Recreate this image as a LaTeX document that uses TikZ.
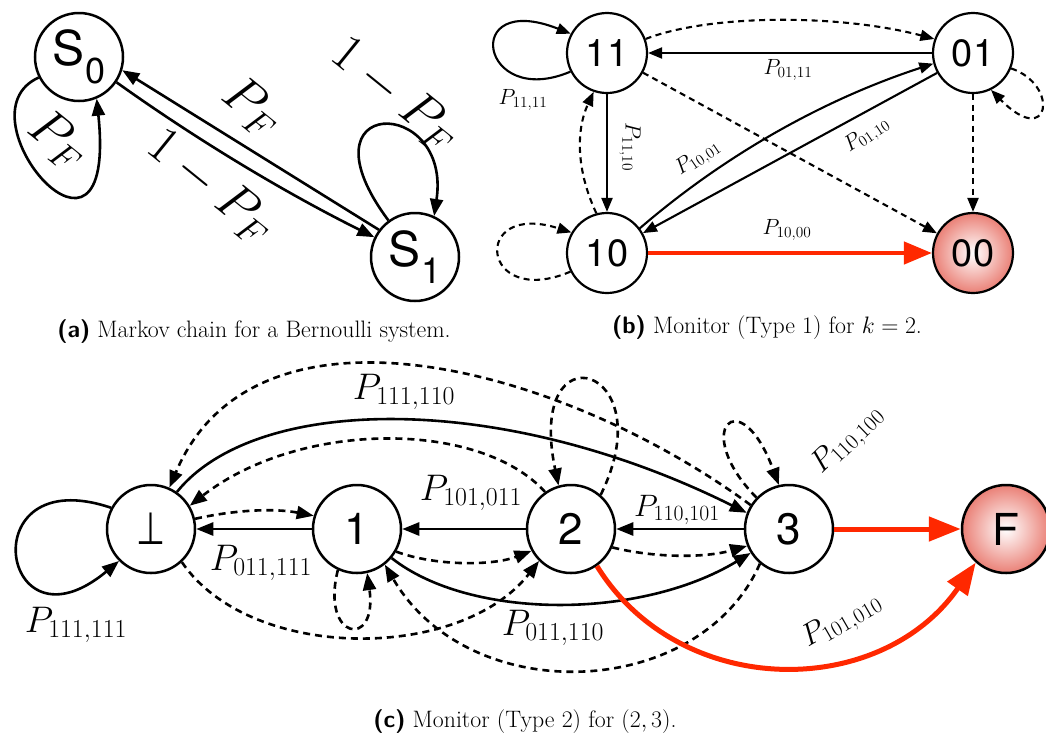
\RequirePackage{fix-cm}
\documentclass[tikz,border=0pt]{standalone}
\usepackage{fontspec}
\usepackage{graphicx}
\usetikzlibrary{arrows.meta}
\newfontfamily\hv{TeX Gyre Heros}
\newfontfamily\dv{DejaVu Sans}
\definecolor{redline}{RGB}{255,40,0}
\definecolor{salmon}{RGB}{234,128,118}
\newcommand{\fsz}[1]{\fontsize{#1}{#1}\selectfont}
\begin{document}
\begin{tikzpicture}[x=1pt,y=-1pt,
 sta/.style={circle,draw,line width=2.5pt,fill=white,inner sep=0pt,minimum size=88pt},
 stb/.style={circle,draw,line width=2.2pt,fill=white,inner sep=0pt,minimum size=80pt,font=\hv\fsz{38}},
 stc/.style={circle,draw,line width=2.5pt,fill=white,inner sep=0pt,minimum size=88pt,font=\hv\fsz{44}},
 bad/.style={shading=radial,inner color=white,outer color=salmon},
 ea/.style={line width=2.6pt,-{Triangle[length=17pt,width=13pt]}},
 eb/.style={line width=2.1pt,-{Triangle[length=14pt,width=11pt]}},
 ec/.style={line width=2.6pt,-{Triangle[length=17pt,width=13pt]}},
 dsb/.style={dash pattern=on 6pt off 4.5pt},
 dsc/.style={dash pattern=on 7pt off 5pt},
 redb/.style={line width=4.5pt,draw=redline,-{Triangle[length=28pt,width=22pt]}},
 redc/.style={line width=5pt,draw=redline,-{Triangle[length=32pt,width=24pt]}},
 la/.style={inner sep=0pt,font=\fsz{52}},
 lb/.style={inner sep=0pt,font=\fsz{22}},
 lc/.style={inner sep=0pt,font=\fsz{37}},
 lcs/.style={inner sep=0pt,font=\fsz{31}},
 capt/.style={inner sep=0pt,font=\fsz{23.8},anchor=base}]
\useasboundingbox (0,0) rectangle (1046,737);

% ---------- (a) ----------
\node[sta] (s0) at (79,57) {\hv\fsz{48}S\raisebox{-0.37em}{\fsz{36}0}\rule[-11pt]{0pt}{0pt}};
\node[sta] (s1) at (415,257) {\hv\fsz{48}S\raisebox{-0.37em}{\fsz{36}1}\rule[-11pt]{0pt}{0pt}};
\draw[ea] (s1.143) -- (s0.-17);
\draw[ea] (s0.-34) .. controls (198,140.5) and (284.7,192.5) .. (s1.154);
\draw[ea] (s0.207) .. controls (-45,115) and (118,305) .. (s0.293);
\draw[ea] (s1.126) .. controls (295,95) and (452,95) .. (s1.65);
\node[la,rotate=-39] (la1) at (58,140) {$P_F$};
\node[la,rotate=-39] (la2) at (252,107) {$P_F$};
\node[la,rotate=-39] (la3) at (211,187) {$1-P_F$};
\node[la,rotate=-39] (la4) at (395,95) {$1-P_F$};
\node[capt] (capa) at (254,337) {{\sffamily\bfseries (a)} Markov chain for a Bernoulli system.};

% ---------- (b) ----------
\node[stb] (b11) at (607,53) {11};
\node[stb] (b01) at (973,53) {01};
\node[stb] (b10) at (607,253) {10};
\node[stb,bad] (b00) at (973,253) {00};
\draw[eb] (b11.207) .. controls (480,110) and (460,-10) .. (b11.152);
\draw[eb,dsb] (b11.20) .. controls (710,14) and (840,14) .. (b01.160);
\draw[eb] (b01) -- (b11);
\draw[eb,dsb] (b11) -- (b00);
\draw[eb] (b11) -- (b10);
\draw[eb,dsb] (b10.105) .. controls (576,170) and (576,130) .. (b11.251);
\draw[eb,dsb] (b10.207) .. controls (480,310) and (470,200) .. (b10.150);
\draw[eb] (b10.37) .. controls (726,154) and (825,99) .. (b01.195);
\draw[eb] (b01.209) -- (b10.29);
\draw[eb,dsb] (b01.-22) .. controls (1060,85) and (1050,150) .. (b01.-64);
\draw[eb,dsb] (b01) -- (b00);
\draw[redb] (b10) -- (b00);
\node[lb] (lb1) at (523,100) {$P_{11,11}$};
\node[lb] (lb2) at (788,70) {$P_{01,11}$};
\node[lb,rotate=-90] (lb3) at (630,147) {$P_{11,10}$};
\node[lb,rotate=34] (lb4) at (698,158) {$P_{10,01}$};
\node[lb,rotate=34] (lb5) at (867,135) {$P_{01,10}$};
\node[lb] (lb6) at (787,230) {$P_{10,00}$};
\node[capt] (capb) at (767,333) {{\sffamily\bfseries (b)} Monitor (Type 1) for $k=2$.};

% ---------- (c) ----------
\node[stc] (cb) at (151,529) {\scalebox{0.74}[1]{\dv\fsz{45}⊥}};
\node[stc] (c1) at (357,529) {1};
\node[stc] (c2) at (571,529) {2};
\node[stc] (c3) at (789,529) {3};
\node[stc,bad] (cF) at (1006,529) {F};
\draw[ec] (cb.152) .. controls (-30,460) and (0,660) .. (cb.225);
\draw[ec,dsc] (cb.13) .. controls (234,510) and (274,508) .. (c1.163);
\draw[ec] (c1) -- (cb);
\draw[ec] (cb.55) .. controls (255,395) and (500,390) .. (c3.159);
\draw[ec,dsc] (c3.148) .. controls (560,365) and (255,285) .. (cb.66);
\draw[ec,dsc] (c2.125) .. controls (480,420) and (300,420) .. (cb.31);
\draw[ec] (c2) -- (c1);
\draw[ec,dsc] (c2.49) .. controls (665,365) and (525,325) .. (c2.106);
\draw[ec] (c3) -- (c2);
\draw[ec,dsc] (c2.-24) .. controls (655,558) and (705,558) .. (c3.202);
\draw[ec,dsc] (c1.-30) .. controls (435,566) and (492,566) .. (c2.209);
\draw[ec,dsc] (cb.-47) .. controls (250,662) and (460,662) .. (c2.225);
\draw[ec] (c1.-40) .. controls (470,620) and (640,620) .. (c3.212);
\draw[ec,dsc] (c1.245) .. controls (320,640) and (378,650) .. (c1.283);
\draw[ec,dsc] (c3.230) .. controls (700,700) and (470,710) .. (c1.-52);
\draw[ec,dsc] (c3.136) .. controls (690,430) and (740,380) .. (c3.103);
\draw[redc] (c3) -- (cF);
\draw[redc] (c2.-55) .. controls (680,700) and (880,700) .. (cF.228);
\node[lc] (lc1) at (76,625) {$P_{111,111}$};
\node[lc] (lc2) at (261,563) {$P_{011,111}$};
\node[lc] (lc3) at (404,392) {$P_{111,110}$};
\node[lc] (lc4) at (471,493) {$P_{101,011}$};
\node[lcs] (lc5) at (677,510) {$P_{110,101}$};
\node[lc] (lc6) at (553,628) {$P_{011,110}$};
\node[lcs,rotate=44] (lc7) at (848,440) {$P_{110,100}$};
\node[lcs,rotate=30] (lc8) at (842,621) {$P_{101,010}$};
\node[capt] (capc) at (525,727) {{\sffamily\bfseries (c)} Monitor (Type 2) for $(2,3)$.};
\end{tikzpicture}
\end{document}
